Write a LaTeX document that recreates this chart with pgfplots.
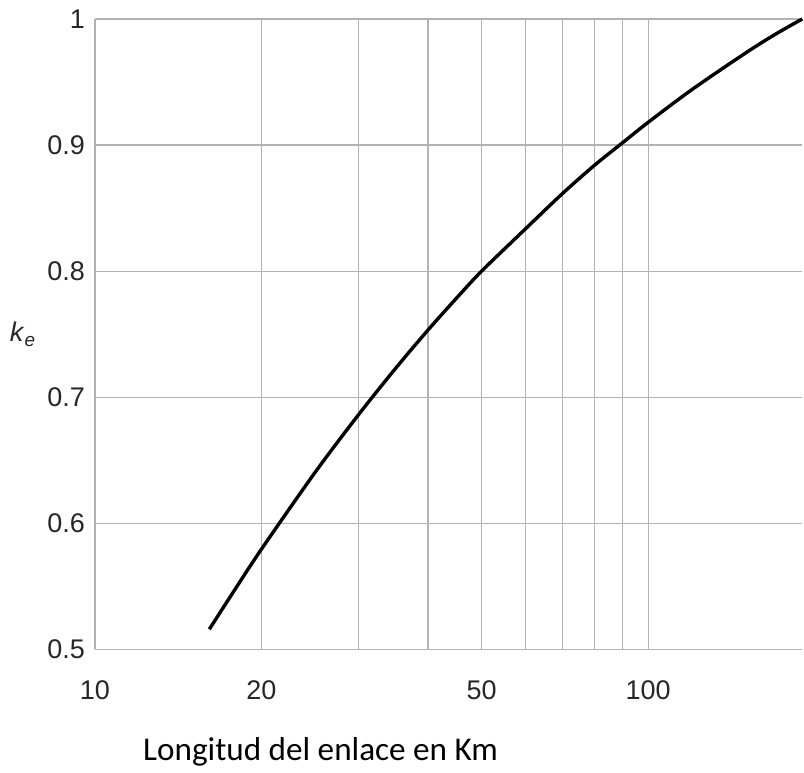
\documentclass[border=0pt]{standalone}
\usepackage{fontspec}
\setmainfont{Liberation Sans}
\newfontfamily\carlito{Carlito}
\usepackage{pgfplots}
\pgfplotsset{compat=1.18}
\begin{document}
\begin{tikzpicture}
\begin{axis}[
  scale only axis,
  width=354pt, height=315.5pt,
  xmode=log, log basis x=10,
  xmin=10, xmax=190, ymin=0.5, ymax=1,
  xtick={10,20,30,40,50,60,70,80,90,100},
  xticklabels={10,20,,,50,,,,,100},
  minor xtick={},
  ytick={0.5,0.6,0.7,0.8,0.9,1}, yticklabels={0.5,0.6,0.7,0.8,0.9,1},
  grid=major,
  major grid style={gray!60, line width=0.6pt},
  major tick length=0pt, minor tick length=0pt,
  axis x line=bottom, axis y line=left,
  axis line style={gray!60, line width=0.6pt, -},
  separate axis lines,
  ticklabel style={font=\fontsize{13.5}{15}\selectfont, text=black!85},
  xticklabel style={yshift=-12pt},
  yticklabel style={xshift=-1.5pt},
  /pgf/number format/assume math mode=true,
  xlabel={\carlito\fontsize{16.6}{19}\selectfont Longitud del enlace en Km},
  xlabel style={at={(axis description cs:0.319,0)}, anchor=center, yshift=-51pt, text=black},
  ylabel={\fontsize{13.5}{15}\selectfont\textit{k}\textsubscript{\textit{e}}},
  ylabel style={at={(axis description cs:0,0.5)}, anchor=center, rotate=-90, xshift=-36pt, text=black!85},
  clip=false,
]
\addplot[black, line width=1.7pt, smooth] coordinates {
  (16.1,0.516) (18,0.549) (20,0.5795) (25,0.6404) (30,0.6865)
  (35,0.7232) (40,0.7533) (45,0.7784) (50,0.800) (60,0.8335)
  (70,0.8615) (80,0.884) (90,0.902) (100,0.918) (120,0.944)
  (150,0.973) (170,0.988) (190,1.0)
};
\end{axis}
\path[use as bounding box] (current axis.south west) ++(-47.5pt,-58.5pt) rectangle ++(402pt,383.5pt);
\end{tikzpicture}
\end{document}
